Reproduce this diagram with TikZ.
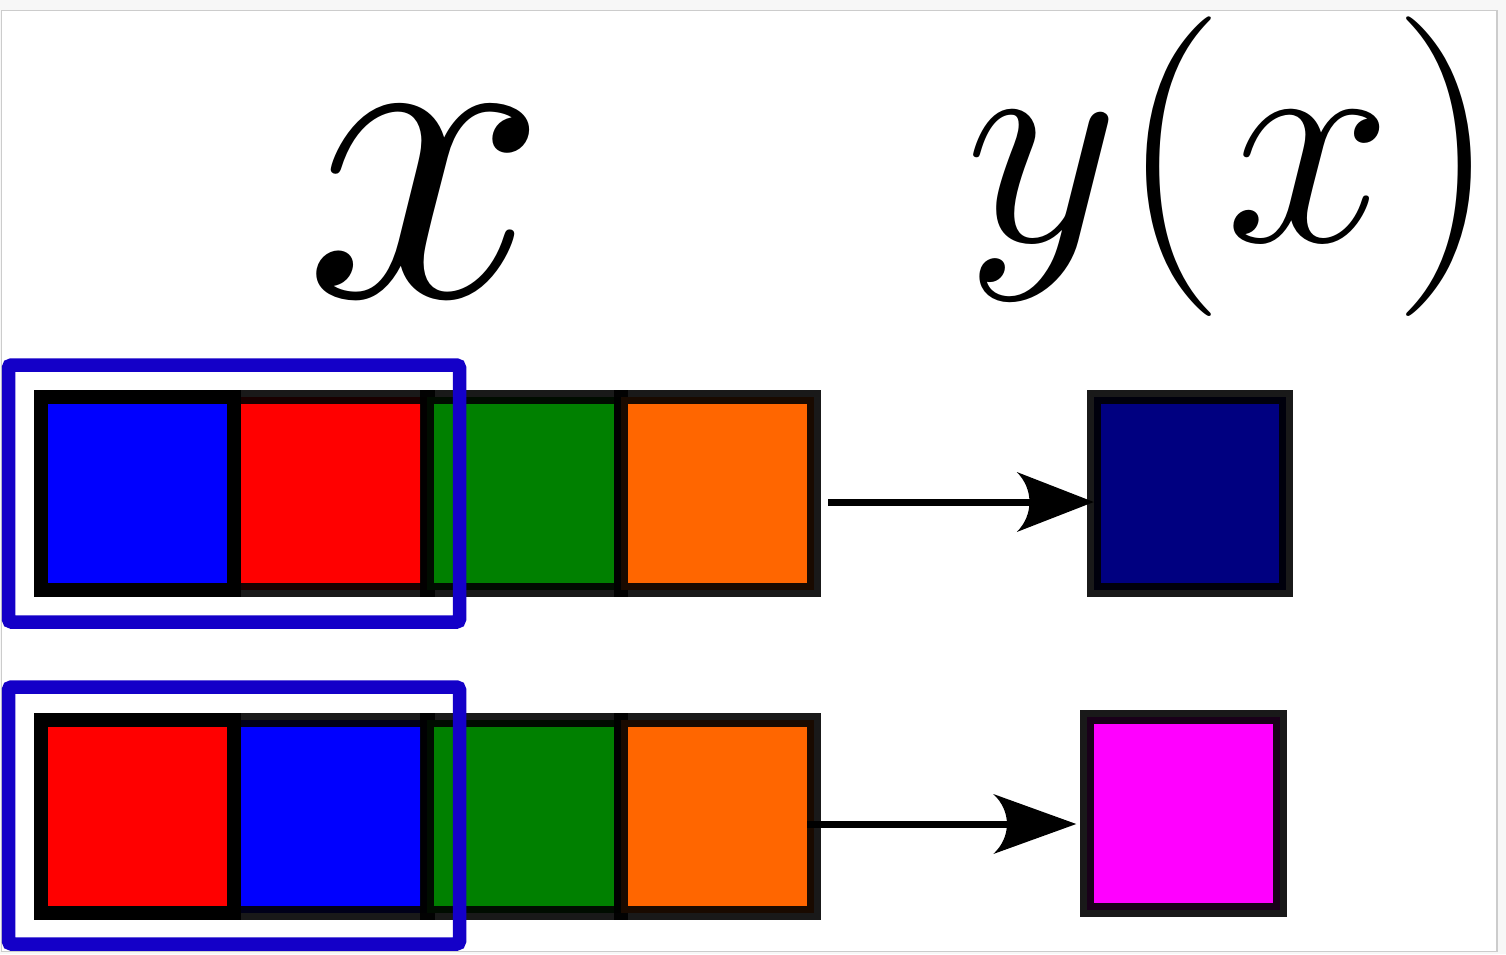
\RequirePackage{fix-cm}
\documentclass[tikz,border=0pt]{standalone}
\usetikzlibrary{arrows.meta}
\definecolor{frameg}{HTML}{CCCCCC}
\definecolor{outerg}{HTML}{F7F7F7}
\definecolor{boxblue}{RGB}{20,0,200}
\definecolor{cnavy}{HTML}{000080}
\definecolor{corange}{HTML}{FF6600}
\definecolor{cgreen}{HTML}{008000}
\definecolor{cblue}{HTML}{0000FF}
\definecolor{cred}{HTML}{FF0000}
\definecolor{cmag}{HTML}{FF00FF}
\pgfdeclarearrow{
  name = CurvedStealth,
  parameters = {\the\pgfarrowlength,\the\pgfarrowwidth},
  setup code = {
    \pgfarrowssettipend{0pt}
    \pgfarrowssetlineend{-0.7\pgfarrowlength}
    \pgfarrowssavethe\pgfarrowlength
    \pgfarrowssavethe\pgfarrowwidth
  },
  drawing code = {
    \pgfpathmoveto{\pgfqpoint{0pt}{0pt}}
    \pgfpathlineto{\pgfpoint{-\pgfarrowlength}{0.5\pgfarrowwidth}}
    \pgfpathcurveto{\pgfpoint{-0.78\pgfarrowlength}{0.22\pgfarrowwidth}}{\pgfpoint{-0.78\pgfarrowlength}{-0.22\pgfarrowwidth}}{\pgfpoint{-\pgfarrowlength}{-0.5\pgfarrowwidth}}
    \pgfpathclose
    \pgfusepathqfill
  },
  defaults = {length = 10pt, width = 8pt}
}
\begin{document}
\begin{tikzpicture}[x=1pt,y=-1pt,
  cell/.style={draw=black, draw opacity=0.9, line width=14pt, minimum width=193.25pt, minimum height=193pt, inner sep=0pt, outer sep=0pt},
  firstcell/.style={cell, draw opacity=1},
  outcell/.style={draw=black, draw opacity=0.9, line width=14pt, minimum width=192.5pt, minimum height=193pt, inner sep=0pt, outer sep=0pt},
  groupbox/.style={draw=boxblue, line width=13.5pt, rounded corners=3pt, minimum width=451pt, minimum height=257pt, inner sep=0pt, outer sep=0pt},
  conn/.style={line width=7pt, -{CurvedStealth[length=77pt,width=60pt]}},
  conntwo/.style={line width=7pt, -{CurvedStealth[length=83pt,width=60pt]}},
  bigmath/.style={inner sep=0pt, outer sep=0pt, anchor=base}
]
\useasboundingbox (0,0) rectangle (1506,954);
\fill[outerg] (0,0) rectangle (1506,954);
\filldraw[fill=white, draw=frameg, line width=1.5pt] (1.5,10.5) rectangle (1497,951.5);

% row 1
\node[cell, fill=cred]    (r1b) at (330.9,493.5) {};
\node[cell, fill=cgreen]  (r1c) at (524.1,493.5) {};
\node[cell, fill=corange] (r1d) at (717.4,493.5) {};
\node[firstcell, fill=cblue] (r1a) at (137.6,493.5) {};
% row 2
\node[cell, fill=cblue]   (r2b) at (330.9,816.5) {};
\node[cell, fill=cgreen]  (r2c) at (524.1,816.5) {};
\node[cell, fill=corange] (r2d) at (717.4,816.5) {};
\node[firstcell, fill=cred] (r2a) at (137.6,816.5) {};

% outputs
\node[outcell, fill=cnavy] (y1) at (1190,493.5) {};
\node[outcell, fill=cmag]  (y2) at (1183.5,813.5) {};

% arrows
\coordinate (s1) at ([xshift=14pt,yshift=-8.5pt]r1d.east);
\draw[conn] (s1) -- (s1 -| y1.west);
\coordinate (s2) at ([xshift=-7pt,yshift=-7.5pt]r2d.east);
\draw[conntwo, shorten >=11pt] (s2) -- (s2 -| y2.west);

% group boxes
\node[groupbox] (g1) at (234,493.5) {};
\node[groupbox] (g2) at (234,815.5) {};

% labels
\node[bigmath] (lx) at (426,296) {\fontsize{438pt}{440pt}\selectfont $x$};
\node[bigmath] (ly) at (1232,241) {\fontsize{300pt}{302pt}\selectfont $y(x)$};
\end{tikzpicture}
\end{document}
